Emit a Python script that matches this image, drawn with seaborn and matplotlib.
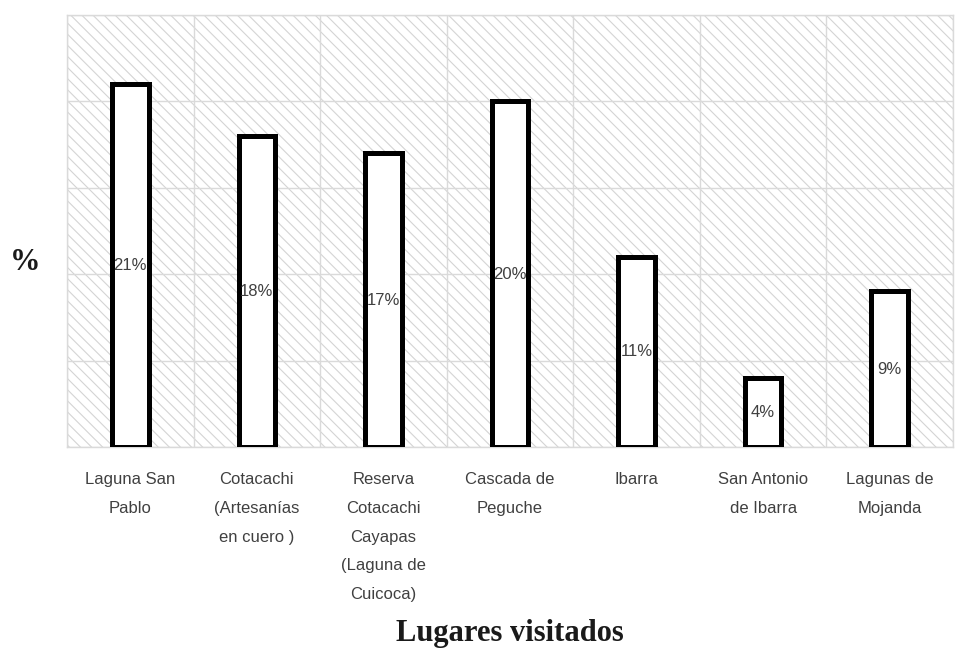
import matplotlib
matplotlib.use("Agg")
import matplotlib.pyplot as plt
from matplotlib.patches import Rectangle
import seaborn as sns
import numpy as np

# Lugares visitados y porcentaje de visitantes
lugares = [
    "Laguna San\nPablo",
    "Cotacachi\n(Artesanías\nen cuero )",
    "Reserva\nCotacachi\nCayapas\n(Laguna de\nCuicoca)",
    "Cascada de\nPeguche",
    "Ibarra",
    "San Antonio\nde Ibarra",
    "Lagunas de\nMojanda",
]
porcentajes = [21, 18, 17, 20, 11, 4, 9]
etiquetas = ["21%", "18%", "17%", "20%", "11%", "4%", "9%"]

sns.set_style("white")
plt.rcParams["font.family"] = ["Liberation Sans", "DejaVu Sans"]
grid_col = "#dadada"
plt.rcParams["hatch.color"] = "#d4d4d4"
plt.rcParams["hatch.linewidth"] = 0.8

fig = plt.figure(figsize=(9.59, 6.48), dpi=100)
ax = fig.add_axes([0.0699, 0.3102, 0.9238, 0.6667])

# hatched plot-area background
bg = Rectangle((0, 0), 1, 1, transform=ax.transAxes, facecolor="white",
               edgecolor="#d4d4d4", hatch="\\" * 3, linewidth=0, zorder=0)
ax.add_patch(bg)

sns.barplot(x=lugares, y=porcentajes, color="white", edgecolor="black",
            linewidth=3.6, width=0.29, saturation=1, ax=ax, zorder=3)

for i, (v, t) in enumerate(zip(porcentajes, etiquetas)):
    ax.text(i, v / 2, t, ha="center", va="center", fontsize=12,
            color="#404040", zorder=4)

ax.set_xlim(-0.5, len(lugares) - 0.5)
ax.set_ylim(0, 25)
ax.set_yticks(np.arange(0, 26, 5))
ax.set_yticklabels([])
ax.set_xticks(np.arange(len(lugares)))
ax.set_xticks(np.arange(-0.5, len(lugares), 1), minor=True)
ax.set_xticklabels(lugares, fontsize=12, color="#404040", linespacing=2.15,
                   va="top")
ax.tick_params(axis="both", which="both", length=0)
ax.tick_params(axis="x", pad=18)
ax.grid(axis="y", which="major", color=grid_col, linewidth=1, zorder=1)
ax.grid(axis="x", which="minor", color=grid_col, linewidth=1, zorder=1)
ax.set_axisbelow(True)
for s in ax.spines.values():
    s.set_color(grid_col)
    s.set_linewidth(1)

ax.set_xlabel("")
ax.set_ylabel("")
serif = ["Liberation Serif", "DejaVu Serif"]
fig.text(0.5318, 1 - 634 / 648, "Lugares visitados", fontsize=22,
         fontweight="bold", family=serif, ha="center", va="center",
         color="#1a1a1a")
fig.text(25 / 959, 1 - 262 / 648, "%", fontsize=22, fontweight="bold",
         family=serif, ha="center", va="center", color="#1a1a1a")

fig.savefig("out.png", dpi=100)
